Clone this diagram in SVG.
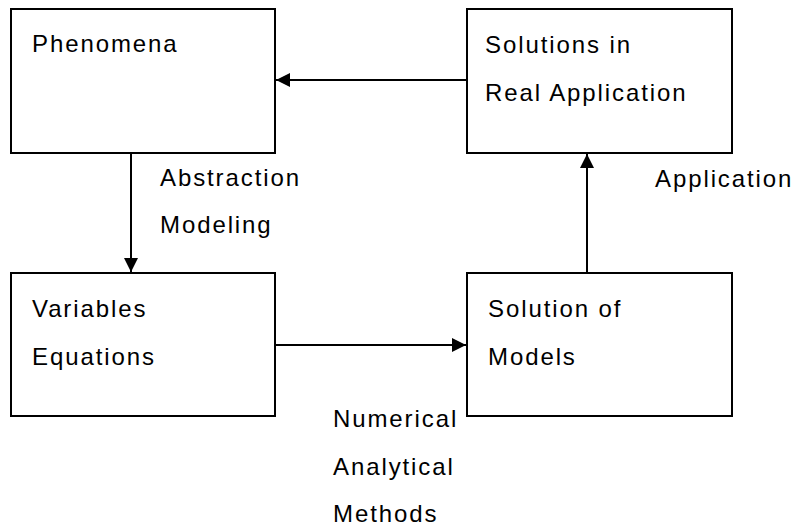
<svg xmlns="http://www.w3.org/2000/svg" width="797" height="526" viewBox="0 0 797 526">
<style>
.box{fill:#fff;stroke:#000;stroke-width:2}
.ln{fill:none;stroke:#000;stroke-width:2}
text{font-family:"Liberation Sans",Arial,sans-serif;font-size:24px;letter-spacing:1.9px;fill:#000}
</style>
<defs>
<marker id="ah" viewBox="0 0 14 14" refX="14" refY="7" markerWidth="14" markerHeight="14" markerUnits="userSpaceOnUse" orient="auto">
<path d="M0,0 L14,7 L0,14 Z" fill="#000"/>
</marker>
</defs>
<g id="connectors">
<line class="ln" x1="131" y1="153" x2="131" y2="272" marker-end="url(#ah)"/>
<line class="ln" x1="467" y1="80" x2="276" y2="80" marker-end="url(#ah)"/>
<line class="ln" x1="275" y1="345" x2="466" y2="345" marker-end="url(#ah)"/>
<line class="ln" x1="587" y1="273" x2="587" y2="154" marker-end="url(#ah)"/>
<text x="160" y="186">Abstraction</text>
<text x="160" y="233">Modeling</text>
<text x="655" y="187">Application</text>
<text x="333" y="427">Numerical</text>
<text x="333" y="475">Analytical</text>
<text x="333" y="522">Methods</text>
</g>
<g id="phenomena">
<rect class="box" x="11" y="9" width="264" height="144"/>
<text x="32" y="52">Phenomena</text>
</g>
<g id="solutions-real">
<rect class="box" x="467" y="9" width="265" height="144"/>
<text x="485" y="53">Solutions in</text>
<text x="485" y="101">Real Application</text>
</g>
<g id="variables">
<rect class="box" x="11" y="273" width="264" height="143"/>
<text x="32" y="317">Variables</text>
<text x="32" y="365">Equations</text>
</g>
<g id="solution-models">
<rect class="box" x="467" y="273" width="265" height="143"/>
<text x="488" y="317">Solution of</text>
<text x="488" y="365">Models</text>
</g>
</svg>
